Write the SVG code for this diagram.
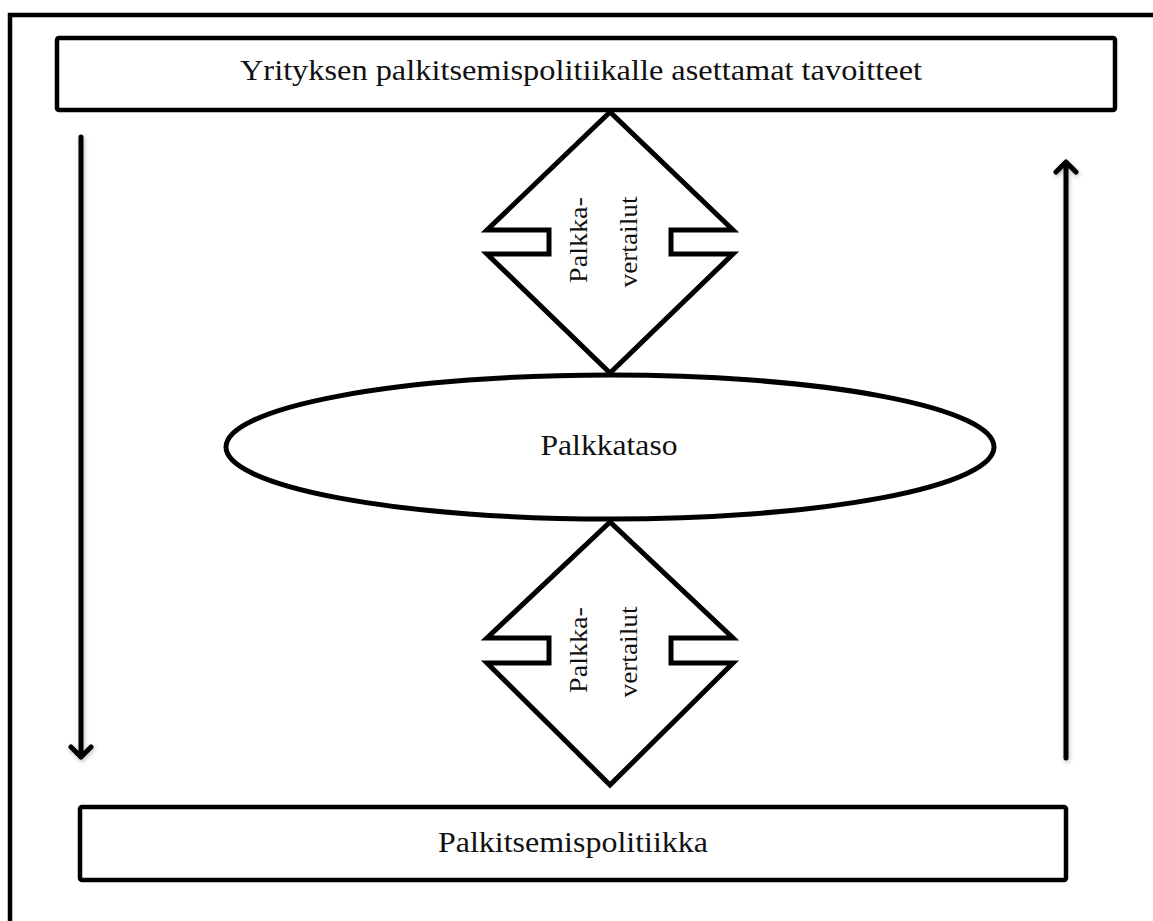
<svg xmlns="http://www.w3.org/2000/svg" width="1153" height="921" viewBox="0 0 1153 921">
<style>
.box{fill:#fff;stroke:#000;stroke-width:4.5;stroke-linejoin:round}
.shape{fill:#fff;stroke:#000;stroke-width:5;stroke-linejoin:miter}
.arrow{fill:none;stroke:#000;stroke-width:5;stroke-linecap:round;stroke-linejoin:round}
.t{font-family:"Liberation Serif","DejaVu Serif",serif;font-size:30px;fill:#111;text-anchor:middle}
.v{font-family:"Liberation Serif","DejaVu Serif",serif;font-size:25px;fill:#111;text-anchor:middle}
</style>
<defs>
<filter id="sh" x="-50%" y="-10%" width="200%" height="120%">
<feDropShadow dx="1" dy="2" stdDeviation="2" flood-color="#000" flood-opacity="0.25"/>
</filter>
</defs>
<rect width="1153" height="921" fill="#fff"/>
<path d="M10,921 V15 H1160" fill="none" stroke="#000" stroke-width="4.5"/>
<g id="goals">
<rect class="box" x="57" y="38" width="1058" height="72" rx="2"/>
<text class="t" x="581" y="80" textLength="682" lengthAdjust="spacingAndGlyphs">Yrityksen palkitsemispolitiikalle asettamat tavoitteet</text>
</g>
<g id="policy">
<rect class="box" x="80" y="807" width="986" height="73" rx="2"/>
<text class="t" x="573" y="852" textLength="270" lengthAdjust="spacingAndGlyphs">Palkitsemispolitiikka</text>
</g>
<g id="compare-top">
<path class="shape" d="M610,112 L487,230 H549 V254 H487 L610,373 L733,254 H671 V230 H733 Z"/>
<text class="v" transform="translate(587,240) rotate(-90)" textLength="86" lengthAdjust="spacingAndGlyphs">Palkka-</text>
<text class="v" transform="translate(637,242) rotate(-90)" textLength="91" lengthAdjust="spacingAndGlyphs">vertailut</text>
</g>
<g id="compare-bottom">
<path class="shape" d="M610,522 L487,638 H549 V663 H487 L610,785 L733,663 H671 V638 H733 Z"/>
<text class="v" transform="translate(587,650) rotate(-90)" textLength="86" lengthAdjust="spacingAndGlyphs">Palkka-</text>
<text class="v" transform="translate(637,652) rotate(-90)" textLength="91" lengthAdjust="spacingAndGlyphs">vertailut</text>
</g>
<g id="level">
<ellipse class="shape" cx="610" cy="447" rx="384" ry="72"/>
<text class="t" x="609" y="455" textLength="137" lengthAdjust="spacingAndGlyphs">Palkkataso</text>
</g>
<g id="connectors" filter="url(#sh)">
<path class="arrow" d="M81,137 V757 M71,747 L81,757 L91,747"/>
<path class="arrow" d="M1066,758 V162 M1056,172 L1066,162 L1076,172"/>
</g>
</svg>
